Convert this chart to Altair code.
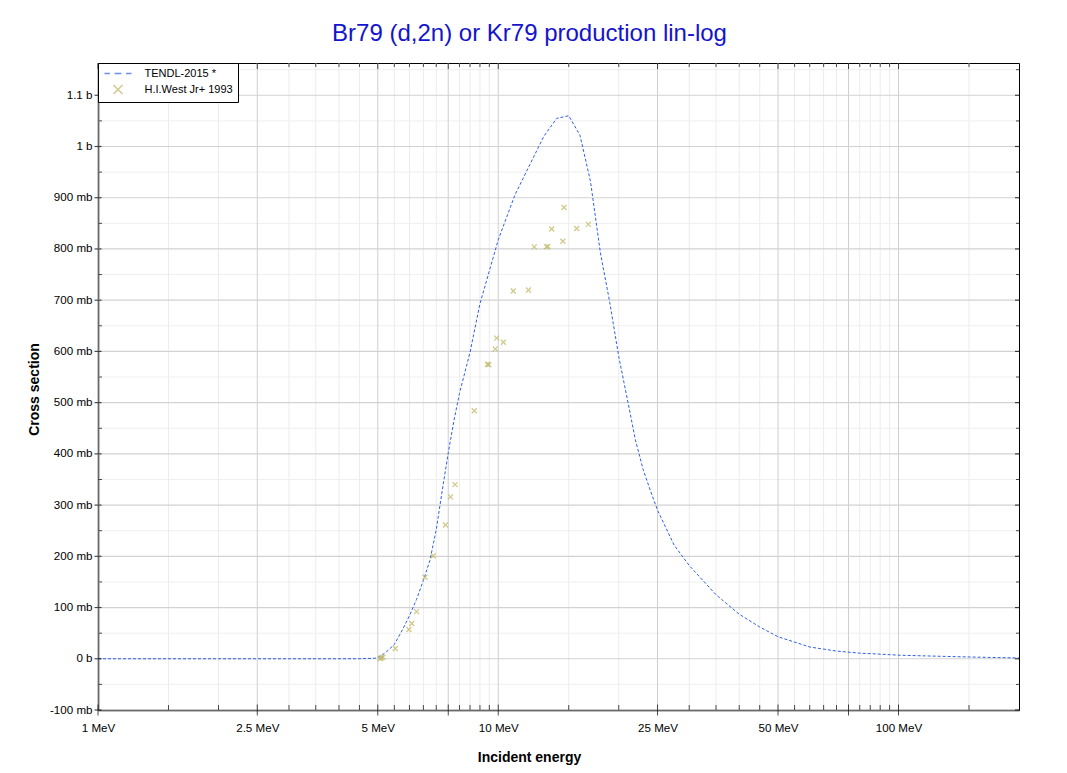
import altair as alt
import pandas as pd

# ---- data ----
tendl_E = [1, 2, 3, 4, 4.5, 4.9, 5.0, 5.1, 5.3, 5.5, 5.75, 6.0, 6.25, 6.5, 6.75, 7.0, 7.25,
           7.5, 7.75, 8.0, 8.5, 9.0, 9.5, 10, 11, 12, 13, 14, 15, 16, 17, 18, 19, 20, 21,
           22, 23, 24, 25, 27.5, 30, 35, 40, 45, 50, 60, 70, 80, 90, 100, 125, 150, 200]
tendl_mb = [0, 0, 0, 0, 0.1, 1, 2, 6, 16, 28, 55, 84, 116, 153, 192, 252, 330,
            402, 465, 518, 598, 693, 757, 818, 905, 965, 1020, 1055, 1060, 1022, 932, 792, 695, 590, 508,
            428, 370, 328, 290, 222, 182, 125, 87, 62, 43, 23, 15, 11, 9, 7, 5, 3.5, 1.5]

west_E = [5.07, 5.10, 5.15, 5.53, 5.98, 6.08, 6.25, 6.56, 6.88, 7.38, 7.60, 7.80, 8.71, 9.40,
          9.47, 9.83, 9.91, 10.3, 10.9, 11.9, 12.3, 13.2, 13.3, 13.6, 14.5, 14.6, 15.7, 16.8]
west_mb = [0, 2, 3, 20, 57, 69, 92, 159, 201, 261, 316, 340, 484, 575,
           574, 605, 626, 618, 718, 720, 804, 804, 805, 839, 815, 881, 840, 848]

series_names = ["TENDL-2015 *", "H.I.West Jr+ 1993"]

x_label_values = [1, 2.5, 5, 10, 25, 50, 100]
x_major = [1, 2.5, 5, 7.5, 10, 25, 50, 75, 100]
x_minor = [1.5, 2, 3, 3.5, 4, 4.5, 5.5, 6, 6.5, 7, 8, 8.5, 9, 9.5, 15, 20, 30, 35, 40, 45,
           55, 60, 65, 70, 80, 85, 90, 95, 150]
y_major = [-100, 0, 100, 200, 300, 400, 500, 600, 700, 800, 900, 1000, 1100]
y_minor = [-50, 50, 150, 250, 350, 450, 550, 650, 750, 850, 950, 1050, 1150]

W, H = 921, 647
FONT = "Liberation Sans"
BLUE = "#2f5fe6"
KHAKI = "#bdb45c"

tendl = pd.DataFrame({"E": tendl_E, "mb": tendl_mb})
west = pd.DataFrame({"E": west_E, "mb": west_mb, "series": series_names[1]})
xmaj = pd.DataFrame({"E": x_major})
xmin = pd.DataFrame({"E": x_minor})
ymaj = pd.DataFrame({"mb": y_major})
ymin = pd.DataFrame({"mb": y_minor})

xscale = alt.Scale(type="log", domain=[1, 200], nice=False)
yscale = alt.Scale(domain=[-100, 1163], nice=False, zero=False)

xaxis = alt.Axis(values=x_label_values, labelExpr="datum.value + ' MeV'", ticks=False, grid=False,
                 domainColor="black", domainWidth=1.5, labelFontSize=11.6, labelColor="black",
                 labelPadding=12, labelFlush=False, labelOverlap=False,
                 title="Incident energy", titleFontSize=14, titleFontWeight="bold", titleColor="black",
                 titleX=431, titleY=47, titleAlign="center", titleBaseline="middle", titleAnchor="start")
yaxis = alt.Axis(values=y_major,
                 labelExpr="datum.value == 0 ? '0 b' : (datum.value >= 1000 ? (datum.value/1000) + ' b' : datum.value + ' mb')",
                 ticks=False, grid=False, domainColor="black", domainWidth=1.5, labelFontSize=11.6,
                 labelColor="black", labelPadding=6, labelFlush=False, labelOverlap=False,
                 title="Cross section", titleFontSize=14, titleFontWeight="bold", titleColor="black",
                 titleX=-64, titleY=326, titleAngle=270, titleAlign="center", titleBaseline="middle",
                 titleAnchor="start")

X = alt.X("E:Q", scale=xscale, axis=xaxis)
Y = alt.Y("mb:Q", scale=yscale, axis=yaxis)

grid_xmin = alt.Chart(xmin).mark_rule(color="#ececec", strokeWidth=1).encode(x=X)
grid_xmaj = alt.Chart(xmaj).mark_rule(color="#cfcfcf", strokeWidth=1).encode(x=X)
grid_ymin = alt.Chart(ymin).mark_rule(color="#efefef", strokeWidth=1).encode(y=Y)
grid_ymaj = alt.Chart(ymaj).mark_rule(color="#d2d2d2", strokeWidth=1.2).encode(y=Y)

line = alt.Chart(tendl).mark_line(color=BLUE, strokeDash=[3, 2], strokeWidth=1, clip=True).encode(
    x=X, y=Y)

dash_path = "M-3,0H-1.8M-0.75,0H0.75M1.8,0H3"
x_path = "M-1,-1L1,1M-1,1L1,-1"
legend = alt.Legend(title=None, orient="none", legendX=0, legendY=0, strokeColor="black",
                    fillColor="white", padding=5, symbolOffset=9.5, labelOffset=21, symbolSize=81,
                    symbolStrokeWidth=1.5, labelFontSize=11, labelColor="black", rowPadding=3,
                    cornerRadius=0, labelFont=FONT)
points = alt.Chart(west).mark_point(filled=False, strokeWidth=1.3, size=25, clip=True).encode(
    x=X, y=Y,
    color=alt.Color("series:N", scale=alt.Scale(domain=series_names, range=[BLUE, KHAKI]), legend=legend),
    shape=alt.Shape("series:N", scale=alt.Scale(domain=series_names, range=[dash_path, x_path]), legend=legend),
)

# axis ticks (bottom/top/left/right)
bt_maj = alt.Chart(xmaj).mark_tick(orient="vertical", size=11, thickness=1, color="black").encode(
    x=X, y=alt.value(H))
bt_min = alt.Chart(xmin).mark_tick(orient="vertical", size=5, thickness=1, color="black", yOffset=-2.5).encode(
    x=X, y=alt.value(H))
tp_maj = alt.Chart(xmaj).mark_tick(orient="vertical", size=6, thickness=1, color="black", yOffset=3).encode(
    x=X, y=alt.value(0))
tp_min = alt.Chart(xmin).mark_tick(orient="vertical", size=4, thickness=1, color="black", yOffset=2).encode(
    x=X, y=alt.value(0))
lt_maj = alt.Chart(ymaj).mark_tick(orient="horizontal", size=7, thickness=1.2, color="black").encode(
    y=Y, x=alt.value(0))
lt_min = alt.Chart(ymin).mark_tick(orient="horizontal", size=4, thickness=1, color="black", xOffset=2).encode(
    y=Y, x=alt.value(0))
rt_maj = alt.Chart(ymaj).mark_tick(orient="horizontal", size=4, thickness=1.2, color="black", xOffset=-2).encode(
    y=Y, x=alt.value(W))
rt_min = alt.Chart(ymin).mark_tick(orient="horizontal", size=3, thickness=1, color="black", xOffset=-1.5).encode(
    y=Y, x=alt.value(W))

chart = alt.layer(
    grid_xmin, grid_ymin, grid_xmaj, grid_ymaj, line, points,
    bt_maj, bt_min, tp_maj, tp_min, lt_maj, lt_min, rt_maj, rt_min,
).properties(
    width=W, height=H,
    title=alt.TitleParams("Br79 (d,2n) or Kr79 production lin-log", color="#1414cc", fontSize=24,
                          font=FONT, fontWeight="normal", anchor="middle", dx=-29, offset=-2,
                          baseline="alphabetic", frame="group"),
    padding={"left": 90, "top": 55, "right": 40, "bottom": 60},
    autosize=alt.AutoSizeParams(type="none"),
).configure(font=FONT, background="white").configure_view(stroke="black", strokeWidth=1)

chart.save("out.html", embed_options={"renderer": "svg", "actions": False})
